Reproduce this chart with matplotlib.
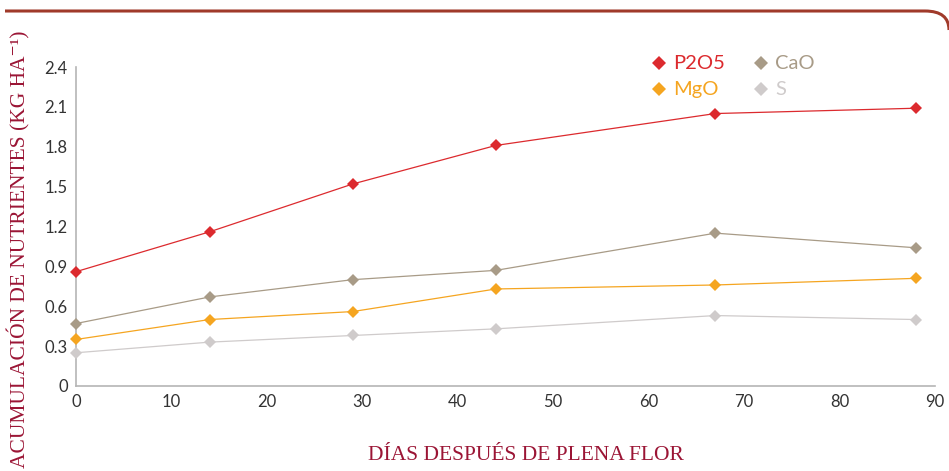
import matplotlib
matplotlib.use("Agg")
import matplotlib.pyplot as plt
from matplotlib.path import Path
from matplotlib.patches import PathPatch

days = [0, 14, 29, 44, 67, 88]
p2o5 = [0.86, 1.16, 1.52, 1.81, 2.05, 2.09]
cao = [0.47, 0.67, 0.80, 0.87, 1.15, 1.04]
mgo = [0.35, 0.50, 0.56, 0.73, 0.76, 0.81]
s = [0.25, 0.33, 0.38, 0.43, 0.53, 0.50]
series_names = ["P2O5", "CaO", "MgO", "S"]
colors = {"P2O5": "#dc2a2e", "CaO": "#a89b87", "MgO": "#f5a520", "S": "#cfcbcb"}
yticks = [0, 0.3, 0.6, 0.9, 1.2, 1.5, 1.8, 2.1, 2.4]
xticks = [0, 10, 20, 30, 40, 50, 60, 70, 80, 90]

fig = plt.figure(figsize=(9.49, 4.71), dpi=100)
ax = fig.add_axes([0.0801, 0.1805, 0.905, 0.6772])

data = {"P2O5": p2o5, "CaO": cao, "MgO": mgo, "S": s}
for name in ["S", "MgO", "CaO", "P2O5"]:
    ax.plot(days, data[name], color=colors[name], lw=0.9, marker="D",
            markersize=6.5, markeredgewidth=0, zorder=3, clip_on=False)

ax.set_xlim(0, 90)
ax.set_ylim(0, 2.4)
ax.set_xticks(xticks)
ax.set_yticks(yticks)
ax.set_yticklabels([("%g" % v) if v != 0 else "0" for v in yticks])
ax.tick_params(length=0, labelsize=12, colors="#333333", pad=6)
for lab in ax.get_xticklabels() + ax.get_yticklabels():
    lab.set_family("Lato")
for sp in ["top", "right"]:
    ax.spines[sp].set_visible(False)
for sp in ["left", "bottom"]:
    ax.spines[sp].set_color("#b5b5b5")
    ax.spines[sp].set_linewidth(1.2)

red = "#9b1535"
fig.text(0.554, 0.033, "DÍAS DESPUÉS DE PLENA FLOR", ha="center", va="center",
         family="Liberation Serif", fontsize=15.5, color=red)
fig.text(0.020, 0.47, "ACUMULACIÓN DE NUTRIENTES (KG HA⁻¹)", ha="center", va="center",
         rotation=90, family=["Liberation Serif", "DejaVu Serif"], fontsize=15.5, color=red)

# legend
leg = [("P2O5", 0.694, 0.866), ("CaO", 0.802, 0.866), ("MgO", 0.694, 0.811), ("S", 0.802, 0.811)]
for name, lx, ly in leg:
    fig.lines.append(plt.Line2D([lx], [ly], transform=fig.transFigure, marker="D",
                                markersize=7.5, color=colors[name], markeredgewidth=0))
    fig.text(lx + 0.015, ly, name, ha="left", va="center", family="Lato",
             fontsize=14.5, color=colors[name])

# top border with rounded corner
W, H = 949, 471
verts = [(5 / W, 1 - 11 / H), (925 / W, 1 - 11 / H), (949 / W, 1 - 11 / H), (949 / W, 1 - 30 / H)]
codes = [Path.MOVETO, Path.LINETO, Path.CURVE3, Path.CURVE3]
patch = PathPatch(Path(verts, codes), transform=fig.transFigure, fill=False,
                  edgecolor="#a03a2a", lw=2.2)
fig.patches.append(patch)

fig.savefig("out.png", dpi=100)
